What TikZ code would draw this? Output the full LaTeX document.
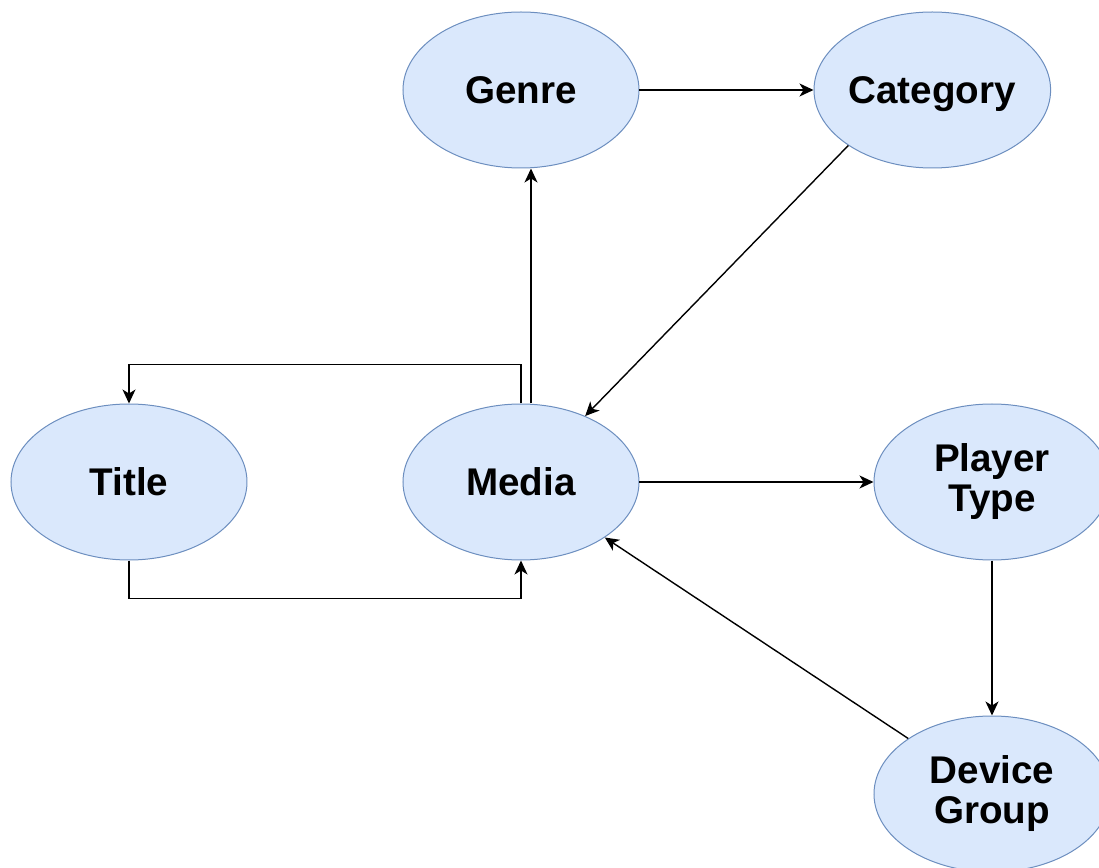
\documentclass[tikz,border=0pt]{standalone}
\usepackage{fontspec}
\setmainfont{Liberation Sans}
\usetikzlibrary{arrows.meta, positioning, shapes.geometric}
\definecolor{entfill}{HTML}{DAE8FC}
\definecolor{entline}{HTML}{6C8EBF}

\begin{document}
\begin{tikzpicture}[
    entity/.style={ellipse, draw=entline, fill=entfill, line width=0.5pt,
                   minimum width=118pt, minimum height=78pt, inner sep=0pt,
                   align=center, font=\fontsize{19.3}{20}\selectfont\bfseries},
    oneline/.style={text height=13.8pt, text depth=0pt},
    link/.style={-{Stealth[length=7pt, width=6.5pt, inset=2pt]}, line width=0.7pt},
]
    \useasboundingbox (-260.5pt,-193pt) rectangle (289pt,241pt);

    \node[entity, oneline] (media) {Media};
    \node[entity, oneline, above=117.5pt of media] (genre) {Genre};
    \node[entity, oneline, right=87pt of genre] (category) {Category};
    \node[entity, oneline, left=77.5pt of media] (title) {Title};
    \node[entity, right=117pt of media] (player) {Player\\Type};
    \node[entity, below=77.5pt of player] (device) {Device\\Group};

    \draw[link] (genre) -- (category);
    \draw[link] (category.south west) -- (media);
    \draw[link] ([xshift=5pt]media.north) -- ([xshift=5pt]genre.south);
    \draw[link] (media.north) -- ++(0,19.5pt) -| (title.north);
    \draw[link] (title.south) -- ++(0,-19pt) -| (media.south);
    \draw[link] (media) -- (player);
    \draw[link] (player) -- (device);
    \draw[link] (device.north west) -- (media);
\end{tikzpicture}
\end{document}
